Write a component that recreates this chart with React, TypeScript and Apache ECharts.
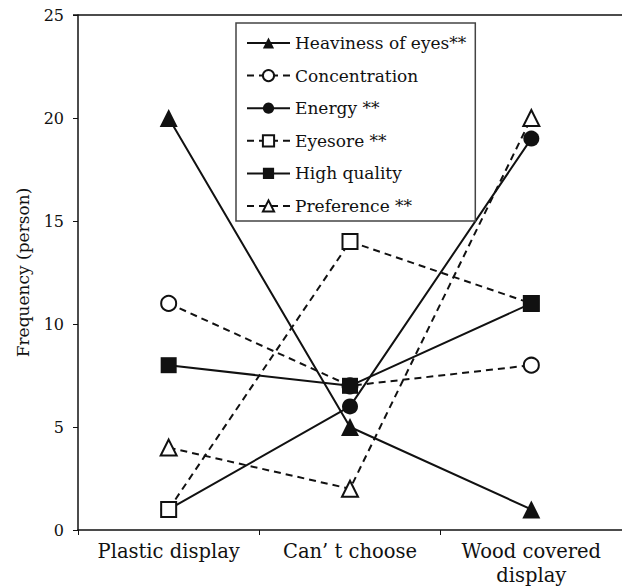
import React, { useEffect, useRef } from "react";
import * as echarts from "echarts";

const categories = ["Plastic display", "Can\u2019 t choose", "Wood covered\ndisplay"];
const seriesNames = [
  "Heaviness of eyes**",
  "Concentration",
  "Energy **",
  "Eyesore **",
  "High quality",
  "Preference **",
];
const heaviness = [20, 5, 1];
const concentration = [11, 7, 8];
const energy = [1, 6, 19];
const eyesore = [1, 14, 11];
const highQuality = [8, 7, 11];
const preference = [4, 2, 20];
const yTicks = { min: 0, max: 25, interval: 5 };

const FONT = "'DejaVu Serif', serif";
const INK = "#111";

export default function App() {
  const ref = useRef<HTMLDivElement>(null);
  useEffect(() => {
    if (!ref.current) return;
    const chart = echarts.init(ref.current, null, { renderer: "svg" });
    const mk = (
      name: string,
      data: number[],
      dashed: boolean,
      symbol: string,
      filled: boolean,
      size: number
    ) => ({
      name,
      type: "line",
      data,
      symbol,
      symbolSize: size,
      showAllSymbol: true,
      lineStyle: { color: INK, width: 2, type: dashed ? [7, 5] : "solid" },
      itemStyle: {
        color: filled ? INK : "#fff",
        borderColor: INK,
        borderWidth: filled ? 0 : 2,
        opacity: 1,
      },
      emphasis: { disabled: true },
    });
    chart.setOption({
      animation: false,
      textStyle: { fontFamily: FONT },
      grid: { left: 78, top: 15, width: 550, height: 517 },
      legend: {
        orient: "vertical",
        left: 236,
        top: 23,
        padding: [11, 9, 6, 10],
        itemWidth: 43,
        itemHeight: 14,
        itemGap: 14.6,
        borderColor: "#444",
        borderWidth: 1.5,
        backgroundColor: "#fff",
        textStyle: { fontFamily: FONT, fontSize: 17, lineHeight: 18, color: INK },
        data: seriesNames,
      },
      xAxis: {
        type: "category",
        data: categories,
        boundaryGap: true,
        axisLine: { lineStyle: { color: INK, width: 1.5 } },
        axisTick: { show: true, length: 5, lineStyle: { color: INK } },
        axisLabel: {
          interval: 0,
          hideOverlap: false,
          fontFamily: FONT,
          fontSize: 19.5,
          color: INK,
          margin: 9,
          lineHeight: 24,
        },
        splitLine: { show: false },
      },
      yAxis: {
        type: "value",
        min: yTicks.min,
        max: yTicks.max,
        interval: yTicks.interval,
        name: "Frequency (person)",
        nameLocation: "middle",
        nameGap: 47,
        nameRotate: 90,
        nameTextStyle: { fontFamily: FONT, fontSize: 17, color: INK },
        axisLine: { show: true, lineStyle: { color: INK, width: 1.5 } },
        axisTick: { show: true, length: 5, lineStyle: { color: INK } },
        axisLabel: { fontFamily: FONT, fontSize: 16, color: INK, margin: 14 },
        splitLine: { show: false },
      },
      graphic: [
        {
          type: "line",
          shape: { x1: 73, y1: 15, x2: 622, y2: 15 },
          style: { stroke: INK, lineWidth: 1.5 },
          z: 10,
        },
      ],
      series: [
        mk(seriesNames[0], heaviness, false, "triangle", true, 18),
        mk(seriesNames[1], concentration, true, "circle", false, 15),
        mk(seriesNames[2], energy, false, "circle", true, 16),
        mk(seriesNames[3], eyesore, true, "rect", false, 15),
        mk(seriesNames[4], highQuality, false, "rect", true, 16),
        mk(seriesNames[5], preference, true, "triangle", false, 16),
      ],
    });
    return () => chart.dispose();
  }, []);
  return (
    <div
      ref={ref}
      style={{ position: "fixed", left: 0, top: 0, width: 622, height: 587, background: "#fff" }}
    />
  );
}
